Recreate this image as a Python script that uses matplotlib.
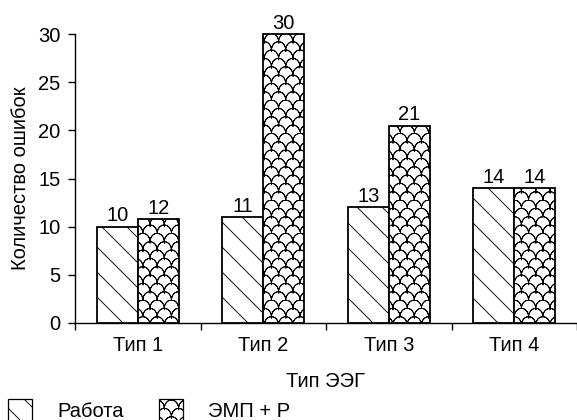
import numpy as np
import matplotlib
matplotlib.use("Agg")
import matplotlib.pyplot as plt
import matplotlib.hatch as mhatch
from matplotlib.path import Path
from matplotlib.patches import Patch

# ---------------- data ----------------
categories = ["Тип 1", "Тип 2", "Тип 3", "Тип 4"]
series_names = ["Работа", "ЭМП + Р"]
work_values = [10, 11, 12, 14]          # bar heights as drawn
emp_values = [10.8, 30, 20.5, 14]
work_labels = ["10", "11", "13", "14"]  # numbers printed above bars
emp_labels = ["12", "30", "21", "14"]
yticks = [0, 5, 10, 15, 20, 25, 30]
xlabel = "Тип ЭЭГ"
ylabel = "Количество ошибок"


# ---------------- custom hatches ----------------
class ScaleHatch(mhatch.HatchPatternBase):
    """Fish-scale pattern, triggered by 'O' (open arches, zero fill area)."""
    NCOLS = 7
    NROWS = 12
    NSEG = 12

    def __init__(self, hatch, density):
        if hatch.count("O"):
            n = 0
            for j in range(self.NROWS):
                n += self.NCOLS + (j % 2)
            self.num_vertices = n * (2 * self.NSEG + 1)
        else:
            self.num_vertices = 0

    def set_vertices_and_codes(self, vertices, codes):
        d = 1.0 / self.NCOLS
        h = 1.0 / self.NROWS
        t = np.linspace(0, np.pi, self.NSEG + 1)
        t = np.concatenate([t, t[-2::-1]])  # go along the arch and back
        ax_ = d / 2 - d / 2 * np.cos(t)
        ay_ = h * np.sin(t)
        n = len(t)
        k = 0
        for j in range(self.NROWS):
            y0 = j * h
            if j % 2 == 0:
                xs = [i * d for i in range(self.NCOLS)]
            else:
                xs = [(i - 0.5) * d for i in range(self.NCOLS + 1)]
            for x0 in xs:
                vertices[k:k + n, 0] = x0 + ax_
                vertices[k:k + n, 1] = y0 + ay_
                codes[k] = Path.MOVETO
                codes[k + 1:k + n] = Path.LINETO
                k += n


class SEHatch(mhatch.SouthEastHatch):
    def __init__(self, hatch, density):
        super().__init__(hatch, 8)


new_types = []
for c in mhatch._hatch_types:
    if c is mhatch.LargeCircles:
        new_types.append(ScaleHatch)
    elif c is mhatch.SouthEastHatch:
        new_types.append(SEHatch)
    else:
        new_types.append(c)
mhatch._hatch_types[:] = new_types

plt.rcParams["font.family"] = ["Liberation Sans", "DejaVu Sans"]
plt.rcParams["hatch.linewidth"] = 0.65
plt.rcParams["hatch.color"] = "black"

FS = 14.5

fig = plt.figure(figsize=(5.77, 4.2), dpi=100)
ax = fig.add_axes([75 / 577, 1 - 323 / 420, 502 / 577, (323 - 34) / 420])

x = np.arange(len(categories))
w = 0.327
b1 = ax.bar(x - w / 2, work_values, w, facecolor="white", edgecolor="black",
            hatch="\\", linewidth=1.3, clip_on=False, zorder=3)
b2 = ax.bar(x + w / 2, emp_values, w, facecolor="white", edgecolor="black",
            hatch="O", linewidth=1.3, clip_on=False, zorder=3)

for bars, labs in ((b1, work_labels), (b2, emp_labels)):
    for rect, lab in zip(bars, labs):
        ax.annotate(lab, (rect.get_x() + rect.get_width() / 2, rect.get_height()),
                    xytext=(0, 1), textcoords="offset points", ha="center",
                    va="bottom", fontsize=FS, annotation_clip=False)

ax.set_xlim(-0.5, len(categories) - 0.5)
ax.set_ylim(0, 30)
ax.set_yticks(yticks)
ax.set_xticks(np.arange(len(categories) + 1) - 0.5)
ax.set_xticklabels([])
ax.set_xticks(x, minor=True)
ax.set_xticklabels(categories, minor=True)
ax.tick_params(axis="x", which="major", direction="out", length=5, width=1.0)
ax.tick_params(axis="x", which="minor", length=0, labelsize=FS, pad=9.5)
ax.tick_params(axis="y", direction="out", length=5, width=1.0, labelsize=FS, pad=5.5)

for s in ("top", "right"):
    ax.spines[s].set_visible(False)
for s in ("left", "bottom"):
    ax.spines[s].set_linewidth(1.0)

ax.set_xlabel(xlabel, fontsize=FS, labelpad=12)
ax.set_ylabel(ylabel, fontsize=FS, labelpad=6)

handles = [Patch(facecolor="white", edgecolor="black", hatch="\\", linewidth=0.9),
           Patch(facecolor="white", edgecolor="black", hatch="O", linewidth=0.9)]
fig.legend(handles, series_names, loc="upper left",
           bbox_to_anchor=(8 / 577, 1 - 399 / 420), ncol=2, frameon=False,
           fontsize=FS, borderpad=0, borderaxespad=0, handlelength=1.2,
           handleheight=1.4, handletextpad=1.25, columnspacing=1.75)

fig.savefig("out.png", dpi=100)
